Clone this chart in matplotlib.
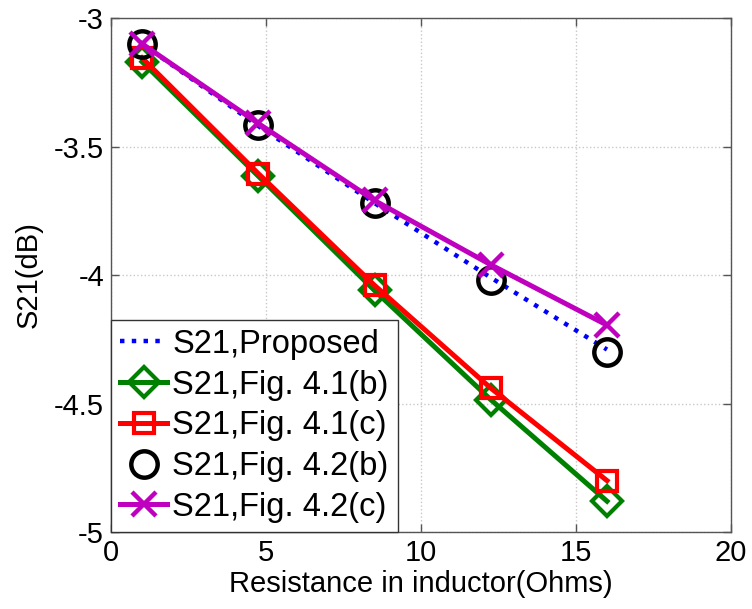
import numpy as np
import matplotlib.pyplot as plt

plt.rcParams['font.family'] = ['Liberation Sans', 'DejaVu Sans']

# Résistance dans l'inductance (Ohms)
r = [1, 4.75, 8.5, 12.25, 16]

# S21 (dB) pour chaque structure
s21_proposed = [-3.10, -3.42, -3.72, -4.01, -4.29]
s21_41b = [-3.17, -3.615, -4.06, -4.485, -4.88]
s21_41c = [-3.155, -3.605, -4.04, -4.44, -4.80]
s21_42b = [-3.10, -3.415, -3.72, -4.02, -4.30]
s21_42c = [-3.10, -3.41, -3.71, -3.96, -4.195]

fig = plt.figure(figsize=(7.52, 6.09), dpi=100)
ax = fig.add_axes([0.1476, 0.1264, 0.8245, 0.844])

ax.plot(r, s21_proposed, ':', color='#0000ff', linewidth=3.2, label='S21,Proposed')
ax.plot(r, s21_41b, '-D', color='#008000', linewidth=3.6, markersize=15,
        markerfacecolor='none', markeredgewidth=3, label='S21,Fig. 4.1(b)')
ax.plot(r, s21_41c, '-s', color='#ff0000', linewidth=3.6, markersize=15,
        markerfacecolor='none', markeredgewidth=3, label='S21,Fig. 4.1(c)')
ax.plot(r, s21_42b, 'o', color='black', markersize=19,
        markerfacecolor='none', markeredgewidth=3.2, label='S21,Fig. 4.2(b)')
ax.plot(r, s21_42c, '-x', color='#bf00bf', linewidth=3.6, markersize=17,
        markeredgewidth=3.2, label='S21,Fig. 4.2(c)')

ax.set_xlim(0, 20)
ax.set_ylim(-5, -3)
ax.set_xticks(np.arange(0, 21, 5))
ax.set_yticks([-5, -4.5, -4, -3.5, -3])
ax.set_yticklabels(['-5', '-4.5', '-4', '-3.5', '-3'])

ax.tick_params(direction='in', top=True, right=True, labelsize=21,
               length=6, width=1, color='#555555', pad=5)
for s in ax.spines.values():
    s.set_color('#555555')
    s.set_linewidth(1)

ax.grid(True, linestyle=':', color='#c8c8c8', linewidth=1)
ax.set_axisbelow(True)

ax.set_xlabel('Resistance in inductor(Ohms)', fontsize=21, labelpad=2)
ax.set_ylabel('S21(dB)', fontsize=21, labelpad=8)

leg = ax.legend(loc='lower left', fontsize=23.5, borderaxespad=0, fancybox=False,
                framealpha=1, edgecolor='#333333', handlelength=1.45,
                handletextpad=0.15, labelspacing=0.3, borderpad=0.28)
leg.get_frame().set_linewidth(1)

fig.savefig('out.png', dpi=100)
